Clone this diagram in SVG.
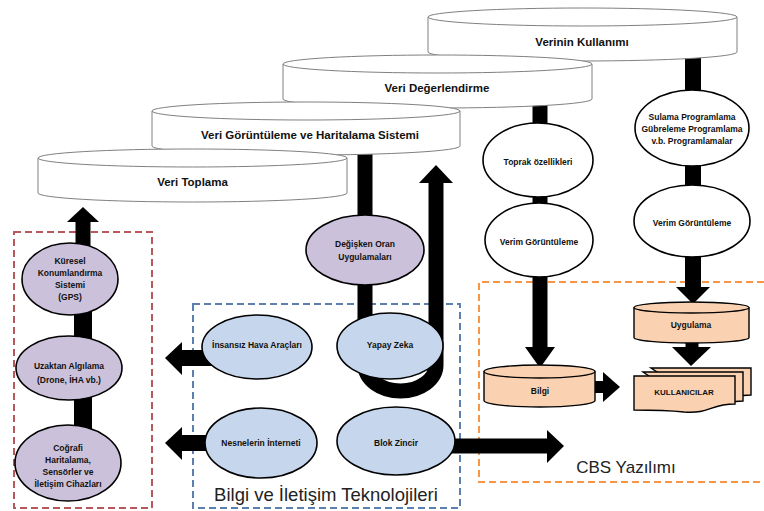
<svg xmlns="http://www.w3.org/2000/svg" width="764" height="511" viewBox="0 0 764 511">
  <style>
    text { font-family: "Liberation Sans", Arial, sans-serif; fill: #111; text-anchor: middle; dominant-baseline: central; }
    .lbl { font-size: 8.5px; font-weight: bold; }
    .cyl-lbl { font-size: 11.5px; font-weight: bold; }
    .big { font-size: 18.5px; font-weight: normal; fill: #222; }
    .cyl { fill: #fff; stroke: #808080; stroke-width: 1; }
    .edge { fill: none; stroke: #808080; stroke-width: 1; }
    .purple { fill: #ccc1da; stroke: #000; stroke-width: 1.6; }
    .blue { fill: #c6d7ed; stroke: #000; stroke-width: 1.6; }
    .white { fill: #fff; stroke: #000; stroke-width: 1.6; }
    .peach { fill: #fad2b2; stroke: #000; stroke-width: 1.4; }
    .peach-edge { fill: none; stroke: #000; stroke-width: 1.4; }
    .bar { fill: none; stroke: #000; }
    .head { fill: #000; }
    .frame { fill: none; stroke-width: 2; stroke-dasharray: 7 4; }
  </style>

  <!-- dashed group frames -->
  <g id="frames">
    <rect class="frame" x="14" y="232" width="138" height="276" stroke="#b9585a"/>
    <rect class="frame" x="193" y="304" width="267" height="204" stroke="#5b80ad"/>
    <path class="frame" d="M764,282 H479 V482 H764" stroke="#f79646"/>
    <text class="big" x="326" y="494">Bilgi ve İletişim Teknolojileri</text>
    <text class="big" x="626" y="467" style="font-size:17px">CBS Yazılımı</text>
  </g>

  <!-- block connectors -->
  <g id="connectors">
    <!-- left column -->
    <line class="bar" x1="83" y1="221" x2="83" y2="262" stroke-width="15"/>
    <polygon class="head" points="67,222 99,222 83,207"/>
    <line class="bar" x1="83" y1="279" x2="83" y2="463" stroke-width="18"/>
    <!-- ICT arrows -->
    <line class="bar" x1="181" y1="358" x2="257" y2="358" stroke-width="16"/>
    <polygon class="head" points="182,342 182,375 165,358"/>
    <line class="bar" x1="181" y1="443" x2="261" y2="443" stroke-width="16"/>
    <polygon class="head" points="182,427 182,460 165,443"/>
    <line class="bar" x1="396" y1="446" x2="548" y2="446" stroke-width="15"/>
    <polygon class="head" points="547,430 547,463 564,446"/>
    <!-- loop through Yapay Zeka -->
    <path class="bar" d="M365,150 V365 A35.5,26 0 0 0 436,365 V181" stroke-width="15"/>
    <polygon class="head" points="419,183 453,183 436,165"/>
    <!-- evaluation column -->
    <line class="bar" x1="540" y1="100" x2="540" y2="348" stroke-width="15"/>
    <polygon class="head" points="525,347 555,347 540,368"/>
    <!-- usage column -->
    <line class="bar" x1="693" y1="55" x2="693" y2="288" stroke-width="16"/>
    <polygon class="head" points="676,287 710,287 693,304"/>
    <line class="bar" x1="692" y1="337" x2="692" y2="348" stroke-width="13"/>
    <polygon class="head" points="672,347 711,347 691,366"/>
    <line class="bar" x1="590" y1="387" x2="604" y2="387" stroke-width="12"/>
    <polygon class="head" points="603,372 603,402 620,387"/>
  </g>

  <!-- stage cylinders, back to front -->
  <g id="verinin-kullanimi">
    <path class="cyl" d="M428,17 V52 A154.5,9 0 0 0 737,52 V17 A154.5,9 0 0 0 428,17 Z"/>
    <path class="edge" d="M428,17 A154.5,9 0 0 0 737,17"/>
    <text class="cyl-lbl" x="582" y="42">Verinin  Kullanımı</text>
  </g>
  <g id="veri-degerlendirme">
    <path class="cyl" d="M283,64 V99 A154.5,9 0 0 0 592,99 V64 A154.5,9 0 0 0 283,64 Z"/>
    <path class="edge" d="M283,64 A154.5,9 0 0 0 592,64"/>
    <text class="cyl-lbl" x="437" y="88">Veri Değerlendirme</text>
  </g>
  <g id="veri-goruntuleme">
    <path class="cyl" d="M152,111 V146 A154,9 0 0 0 460,146 V111 A154,9 0 0 0 152,111 Z"/>
    <path class="edge" d="M152,111 A154,9 0 0 0 460,111"/>
    <text class="cyl-lbl" x="310" y="135">Veri Görüntüleme  ve Haritalama  Sistemi</text>
  </g>
  <g id="veri-toplama">
    <path class="cyl" d="M38,158 V193 A154.5,9 0 0 0 347,193 V158 A154.5,9 0 0 0 38,158 Z"/>
    <path class="edge" d="M38,158 A154.5,9 0 0 0 347,158"/>
    <text class="cyl-lbl" x="192.5" y="182">Veri  Toplama</text>
  </g>

  <!-- data collection technologies -->
  <g id="gps">
    <ellipse class="purple" cx="70" cy="279" rx="48" ry="36"/>
    <text class="lbl" x="70" y="261">Küresel</text>
    <text class="lbl" x="70" y="273">Konumlandırma</text>
    <text class="lbl" x="70" y="285">Sistemi</text>
    <text class="lbl" x="70" y="297">(GPS)</text>
  </g>
  <g id="uzaktan-algilama">
    <ellipse class="purple" cx="69" cy="368" rx="53" ry="32"/>
    <text class="lbl" x="69" y="366">Uzaktan Algılama</text>
    <text class="lbl" x="69" y="380">(Drone, İHA vb.)</text>
  </g>
  <g id="cografi-haritalama">
    <ellipse class="purple" cx="68" cy="463" rx="53" ry="38"/>
    <text class="lbl" x="68" y="448">Coğrafi</text>
    <text class="lbl" x="68" y="460">Haritalama,</text>
    <text class="lbl" x="68" y="472">Sensörler ve</text>
    <text class="lbl" x="68" y="484">İletişim Cihazları</text>
  </g>
  <g id="degisken-oran">
    <ellipse class="purple" cx="365" cy="250" rx="59" ry="35"/>
    <text class="lbl" x="365" y="244">Değişken Oran</text>
    <text class="lbl" x="365" y="257">Uygulamaları</text>
  </g>

  <!-- information and communication technologies -->
  <g id="iha">
    <ellipse class="blue" cx="257" cy="347" rx="55" ry="32"/>
    <text class="lbl" x="257" y="345">İnsansız Hava Araçları</text>
  </g>
  <g id="yapay-zeka">
    <ellipse class="blue" cx="390" cy="346" rx="53" ry="33"/>
    <text class="lbl" x="390" y="345">Yapay Zeka</text>
  </g>
  <g id="nesnelerin-interneti">
    <ellipse class="blue" cx="261" cy="443" rx="56" ry="35"/>
    <text class="lbl" x="261" y="443">Nesnelerin İnterneti</text>
  </g>
  <g id="blok-zincir">
    <ellipse class="blue" cx="396" cy="441" rx="59" ry="34"/>
    <text class="lbl" x="396" y="443">Blok Zincir</text>
  </g>

  <!-- evaluation and usage outputs -->
  <g id="toprak-ozellikleri">
    <ellipse class="white" cx="538" cy="160" rx="55" ry="37"/>
    <text class="lbl" x="538" y="162">Toprak özellikleri</text>
  </g>
  <g id="verim-goruntuleme-1">
    <ellipse class="white" cx="539" cy="240" rx="54" ry="37"/>
    <text class="lbl" x="539" y="242">Verim Görüntüleme</text>
  </g>
  <g id="programlama">
    <ellipse class="white" cx="692" cy="128" rx="57" ry="38"/>
    <text class="lbl" x="692" y="117">Sulama Programlama</text>
    <text class="lbl" x="692" y="129">Gübreleme Programlama</text>
    <text class="lbl" x="692" y="141">v.b. Programlamalar</text>
  </g>
  <g id="verim-goruntuleme-2">
    <ellipse class="white" cx="692" cy="221" rx="58" ry="36"/>
    <text class="lbl" x="692" y="223">Verim Görüntüleme</text>
  </g>

  <!-- GIS software -->
  <g id="bilgi">
    <path class="peach" d="M484,371.5 V400.5 A55.5,6.5 0 0 0 595,400.5 V371.5 A55.5,6.5 0 0 0 484,371.5 Z"/>
    <path class="peach-edge" d="M484,371.5 A55.5,6.5 0 0 0 595,371.5"/>
    <text class="lbl" x="540" y="391">Bilgi</text>
  </g>
  <g id="uygulama">
    <path class="peach" d="M634,307.5 V337.5 A57.5,5.5 0 0 0 749,337.5 V307.5 A57.5,5.5 0 0 0 634,307.5 Z"/>
    <path class="peach-edge" d="M634,307.5 A57.5,5.5 0 0 0 749,307.5"/>
    <text class="lbl" x="691" y="325">Uygulama</text>
  </g>
  <g id="kullanicilar">
    <path class="peach" d="M651,368 H751 V395 C726,395 726,403 701,401 Z"/>
    <path class="peach" d="M643,372 H743 V401 C718,401 718,409 693,406 Z"/>
    <path class="peach" d="M634,376 H735 V404 C710,404 710,414 684,412 C665,410 650,410 634,410 Z"/>
    <text class="lbl" x="684" y="392" style="font-size:8px">KULLANICILAR</text>
  </g>
</svg>
